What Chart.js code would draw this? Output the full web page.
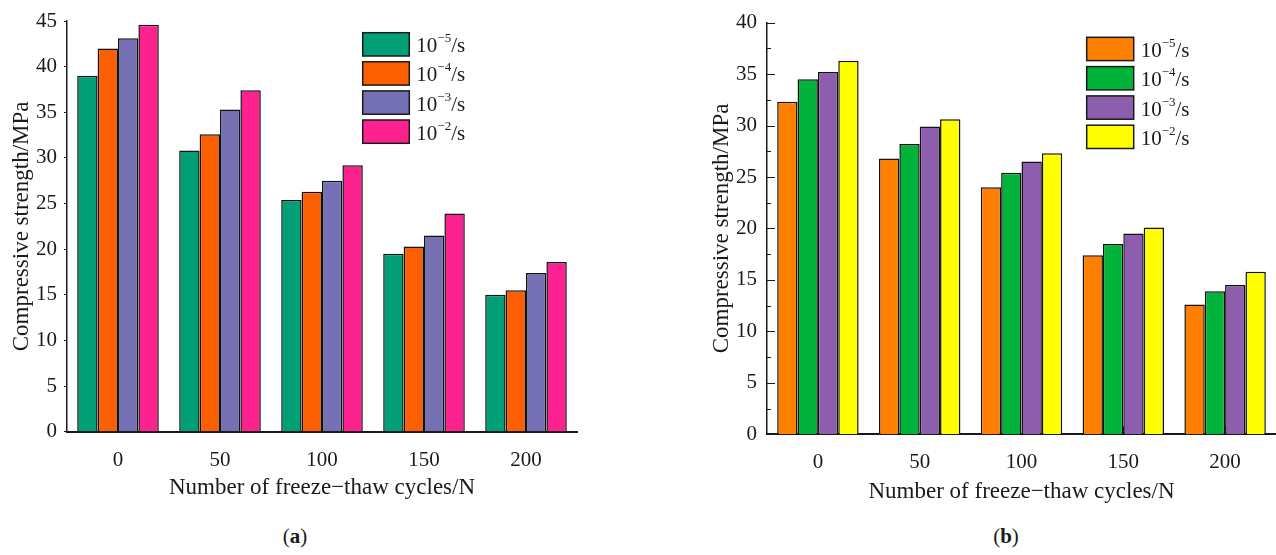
<!DOCTYPE html>
<html>
<head>
<meta charset="utf-8">
<script src="https://cdn.jsdelivr.net/npm/chart.js@4.4.1/dist/chart.umd.min.js"></script>
<style>
  html, body { margin: 0; padding: 0; background: #fff; }
  body { width: 1276px; height: 555px; position: relative; overflow: hidden; font-family: "Liberation Serif", "Times New Roman", serif; }
  canvas { position: absolute; top: 0; }
  #chartA { left: 0; }
  #chartB { left: 700px; }
  .panel-tag { position: absolute; top: 524px; font-size: 21px; line-height: 24px; color: #1a1a1a; transform: translateX(-50%); }
</style>
</head>
<body>
<canvas id="chartA" width="580" height="510"></canvas>
<canvas id="chartB" width="576" height="510"></canvas>
<div class="panel-tag" style="left:295px">(<b>a</b>)</div>
<div class="panel-tag" style="left:1006px">(<b>b</b>)</div>
<script>
const cycles = ['0', '50', '100', '150', '200'];
// strain rates are 10^exp /s
const rateExponents = ['\u22125', '\u22124', '\u22123', '\u22122'];

// panel (a), MPa
const strengthA_e5 = [39.0, 30.8, 25.4, 19.5, 15.0];
const strengthA_e4 = [42.0, 32.6, 26.3, 20.3, 15.5];
const strengthA_e3 = [43.1, 35.3, 27.5, 21.5, 17.4];
const strengthA_e2 = [44.6, 37.4, 29.2, 23.9, 18.6];

// panel (b), MPa
const strengthB_e5 = [32.3, 26.8, 24.0, 17.4, 12.6];
const strengthB_e4 = [34.5, 28.2, 25.4, 18.5, 13.9];
const strengthB_e3 = [35.2, 29.9, 26.5, 19.5, 14.5];
const strengthB_e2 = [36.3, 30.6, 27.3, 20.1, 15.8];

const colorsA = ['#009F76', '#FB5F01', '#7570B3', '#FE2291'];
const colorsB = ['#FF8000', '#00B33A', '#8D5EAD', '#FFFF00'];

const INK = '#1a1a1a';
const SERIF = '"Liberation Serif", "Times New Roman", serif';

Chart.defaults.font.family = SERIF;
Chart.defaults.color = INK;

const Y_TITLE = 'Compressive strength/MPa';
const X_TITLE = 'Number of freeze\u2212thaw cycles/N';

function makeDatasets(seriesList, colors) {
    return seriesList.map((data, i) => ({
        label: '10' + rateExponents[i] + '/s',
        data,
        backgroundColor: colors[i],
        borderColor: '#111',
        borderWidth: 1.5,
        categoryPercentage: 0.8,
        barPercentage: 1.0,
    }));
}

// legend with superscript exponents, boxes stacked at a fixed spot
const rateLegend = {
    id: 'rateLegend',
    afterDraw(chart, args, opts) {
        const ctx = chart.ctx;
        ctx.save();
        chart.data.datasets.forEach((ds, i) => {
            const top = opts.y + i * opts.rowGap;
            ctx.fillStyle = ds.backgroundColor;
            ctx.fillRect(opts.x, top, opts.boxWidth, opts.boxHeight);
            ctx.lineWidth = 1.5;
            ctx.strokeStyle = INK;
            ctx.strokeRect(opts.x, top, opts.boxWidth, opts.boxHeight);

            const base = top + opts.boxHeight - 3.7;
            let tx = opts.x + opts.boxWidth + 7;
            ctx.fillStyle = INK;
            ctx.textBaseline = 'alphabetic';
            ctx.textAlign = 'left';
            ctx.font = '21px ' + SERIF;
            ctx.fillText('10', tx, base);
            tx += ctx.measureText('10').width;
            ctx.font = '13px ' + SERIF;
            ctx.fillText(rateExponents[i], tx, base - 10);
            tx += ctx.measureText(rateExponents[i]).width;
            ctx.font = '21px ' + SERIF;
            ctx.fillText('/s', tx, base);
        });
        ctx.restore();
    }
};

// inward major/minor ticks on the y axis and inward ticks at category centres
const inwardTicks = {
    id: 'inwardTicks',
    afterDatasetsDraw(chart, args, opts) {
        const { ctx, chartArea } = chart;
        const yScale = chart.scales.y;
        const xScale = chart.scales.x;
        ctx.save();
        ctx.strokeStyle = INK;
        ctx.lineWidth = 1;
        ctx.beginPath();
        for (let v = yScale.min; v <= yScale.max + 1e-6; v += opts.minorStep) {
            const py = Math.round(yScale.getPixelForValue(v)) + 0.5;
            const isMajor = Math.abs(v / opts.majorStep - Math.round(v / opts.majorStep)) < 1e-6;
            const len = isMajor ? opts.majorLength : opts.minorLength;
            ctx.moveTo(chartArea.left, py);
            ctx.lineTo(chartArea.left + len, py);
        }
        cycles.forEach((c, i) => {
            const px = Math.round(xScale.getPixelForValue(i)) + 0.5;
            ctx.moveTo(px, chartArea.bottom);
            ctx.lineTo(px, chartArea.bottom - opts.majorLength);
        });
        ctx.stroke();
        ctx.restore();
    }
};

function buildConfig(seriesList, colors, opt) {
    return {
        type: 'bar',
        data: {
            labels: cycles,
            datasets: makeDatasets(seriesList, colors),
        },
        options: {
            responsive: false,
            animation: false,
            events: [],
            layout: { padding: { top: opt.padTop, right: opt.padRight, left: 0, bottom: 0 } },
            plugins: {
                legend: { display: false },
                tooltip: { enabled: false },
                rateLegend: opt.legend,
                inwardTicks: opt.inward,
            },
            scales: {
                x: {
                    afterFit: (scale) => { scale.height = opt.xAxisHeight; },
                    grid: { display: false },
                    border: { display: true, color: INK, width: 2 },
                    ticks: { font: { size: 21 }, color: INK, padding: 8 },
                    title: {
                        display: true,
                        text: X_TITLE,
                        font: { size: 23 },
                        color: INK,
                        padding: { top: 0, bottom: opt.xTitlePad },
                    },
                },
                y: {
                    min: 0,
                    max: opt.yMax,
                    afterFit: (scale) => { scale.width = 67; },
                    grid: {
                        display: opt.outwardTicks,
                        drawOnChartArea: false,
                        drawTicks: opt.outwardTicks,
                        tickLength: 3,
                        color: INK,
                        lineWidth: 1,
                    },
                    border: { display: true, color: INK, width: 1.5 },
                    ticks: {
                        stepSize: 5,
                        font: { size: 21 },
                        color: INK,
                        padding: opt.outwardTicks ? 7 : 10,
                    },
                    title: {
                        display: true,
                        text: Y_TITLE,
                        font: { size: 23 },
                        color: INK,
                        padding: { top: 8, bottom: 0 },
                    },
                },
            },
        },
        plugins: opt.extraPlugins,
    };
}

const chartA = new Chart(document.getElementById('chartA').getContext('2d'),
    buildConfig([strengthA_e5, strengthA_e4, strengthA_e3, strengthA_e2], colorsA, {
        padTop: 21,
        padRight: 3,
        xAxisHeight: 78.3,
        xTitlePad: 8,
        yMax: 45,
        outwardTicks: true,
        legend: { x: 362.7, y: 32.7, boxWidth: 46.6, boxHeight: 23.3, rowGap: 29.1 },
        inward: {},
        extraPlugins: [rateLegend],
    }));

const chartB = new Chart(document.getElementById('chartB').getContext('2d'),
    buildConfig([strengthB_e5, strengthB_e4, strengthB_e3, strengthB_e2], colorsB, {
        padTop: 21,
        padRight: 0,
        xAxisHeight: 75.7,
        xTitlePad: 4,
        yMax: 40,
        outwardTicks: false,
        legend: { x: 386.7, y: 37.3, boxWidth: 47, boxHeight: 23.3, rowGap: 29.3 },
        inward: { minorStep: 2.5, majorStep: 5, majorLength: 8, minorLength: 4 },
        extraPlugins: [rateLegend, inwardTicks],
    }));
</script>
</body>
</html>
